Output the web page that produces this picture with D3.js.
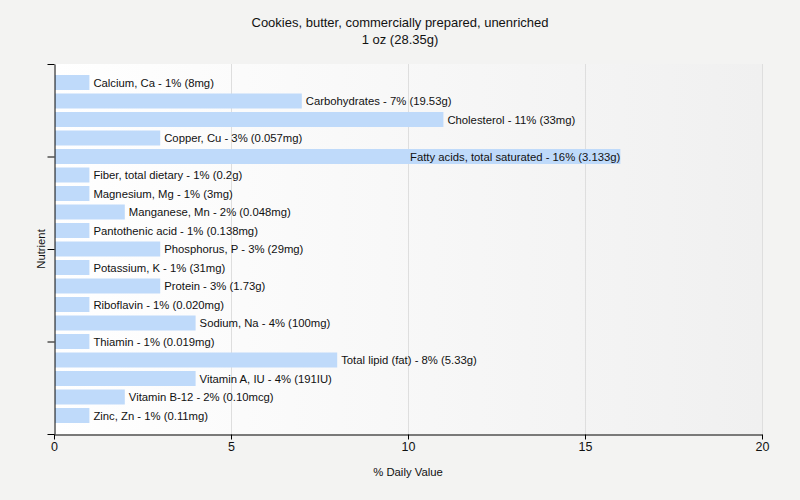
<!DOCTYPE html>
<html>
<head>
<meta charset="utf-8">
<script src="https://cdn.jsdelivr.net/npm/d3@7"></script>
<style>
	body { margin: 0; background: #f3f3f2; }
	svg { display: block; font-family: "Liberation Sans", Arial, sans-serif; }
</style>
</head>
<body>
<script>
var nutrients = ["Calcium, Ca", "Carbohydrates", "Cholesterol", "Copper, Cu", "Fatty acids, total saturated",
	"Fiber, total dietary", "Magnesium, Mg", "Manganese, Mn", "Pantothenic acid", "Phosphorus, P",
	"Potassium, K", "Protein", "Riboflavin", "Sodium, Na", "Thiamin", "Total lipid (fat)",
	"Vitamin A, IU", "Vitamin B-12", "Zinc, Zn"];
var percents = [1, 7, 11, 3, 16, 1, 1, 2, 1, 3, 1, 3, 1, 4, 1, 8, 4, 2, 1];
var amounts = ["8mg", "19.53g", "33mg", "0.057mg", "3.133g", "0.2g", "3mg", "0.048mg", "0.138mg", "29mg",
	"31mg", "1.73g", "0.020mg", "100mg", "0.019mg", "5.33g", "191IU", "0.10mcg", "0.11mg"];
var xTicks = [0, 5, 10, 15, 20];

var chart = {
	width: 800,
	height: 500,
	left: 54,
	right: 762,
	top: 64,
	bottom: 434,
	font: "'Liberation Sans', Arial, sans-serif",

	init: function () {
		var svg = d3.select("body").append("svg")
			.attr("width", this.width)
			.attr("height", this.height);

		var grad = svg.append("defs").append("linearGradient")
			.attr("id", "bg").attr("x1", "0").attr("x2", "1").attr("y1", "0").attr("y2", "0");
		grad.append("stop").attr("offset", "0").attr("stop-color", "#ffffff");
		grad.append("stop").attr("offset", "1").attr("stop-color", "#f0f0f0");

		var x = d3.scaleLinear().domain([0, 20]).range([this.left, this.right]);
		var y = d3.scalePoint().domain(nutrients).range([this.top, this.bottom]).padding(1);
		var yTick = d3.scaleLinear().domain([0, 20]).range([this.top, this.bottom]);

		svg.append("rect")
			.attr("x", this.left).attr("y", this.top)
			.attr("width", this.right - this.left).attr("height", this.bottom - this.top)
			.attr("fill", "url(#bg)");

		// grid
		svg.append("g").selectAll("line")
			.data(xTicks.slice(1))
			.enter().append("line")
			.attr("x1", function (d) { return x(d) + 0.5; })
			.attr("x2", function (d) { return x(d) + 0.5; })
			.attr("y1", this.top).attr("y2", this.bottom)
			.attr("stroke", "#dedede");

		// bars
		svg.append("g").selectAll("rect")
			.data(nutrients)
			.enter().append("rect")
			.attr("x", x(0) + 1)
			.attr("y", function (d) { return y(d) - 7.5; })
			.attr("width", function (d, i) { return x(percents[i]) - x(0) - 1; })
			.attr("height", 15)
			.attr("fill", "#bfdafa");

		// labels
		var right = this.right;
		svg.append("g").selectAll("text")
			.data(nutrients)
			.enter().append("text")
			.attr("y", function (d) { return y(d) + 4; })
			.attr("font-size", "11.3px")
			.attr("fill", "#111")
			.text(function (d, i) { return d + " - " + percents[i] + "% (" + amounts[i] + ")"; })
			.each(function (d, i) {
				var t = d3.select(this);
				var w = this.getComputedTextLength();
				var end = x(percents[i]);
				if (end + 4 + w > right) {
					t.attr("x", end).attr("text-anchor", "end");
				} else {
					t.attr("x", end + 4);
				}
			});

		// x axis
		var xAxis = svg.append("g")
			.attr("transform", "translate(0," + (this.bottom + 0.5) + ")")
			.call(d3.axisBottom(x).tickValues(xTicks).tickSize(5).tickSizeOuter(0));
		xAxis.select(".domain").attr("stroke", "#000");
		xAxis.selectAll("text").attr("font-size", "12.5px").attr("fill", "#111").attr("font-family", this.font);

		// y axis
		var yAxis = svg.append("g")
			.attr("transform", "translate(" + (this.left + 0.5) + ",0)")
			.call(d3.axisLeft(yTick).tickValues(xTicks).tickSize(7).tickSizeOuter(0).tickFormat(""));
		yAxis.select(".domain").attr("stroke", "#000");

		svg.append("text")
			.attr("x", 400).attr("y", 27)
			.attr("text-anchor", "middle").attr("font-size", "13px").attr("fill", "#111")
			.text("Cookies, butter, commercially prepared, unenriched");
		svg.append("text")
			.attr("x", 400).attr("y", 44)
			.attr("text-anchor", "middle").attr("font-size", "13px").attr("fill", "#111")
			.text("1 oz (28.35g)");

		svg.append("text")
			.attr("x", (this.left + this.right) / 2).attr("y", 476)
			.attr("text-anchor", "middle").attr("font-size", "11.3px").attr("fill", "#111")
			.text("% Daily Value");

		svg.append("text")
			.attr("transform", "translate(45," + ((this.top + this.bottom) / 2) + ") rotate(-90)")
			.attr("text-anchor", "middle").attr("font-size", "11.3px").attr("fill", "#111")
			.text("Nutrient");
	}
};

chart.init();
</script>
</body>
</html>
